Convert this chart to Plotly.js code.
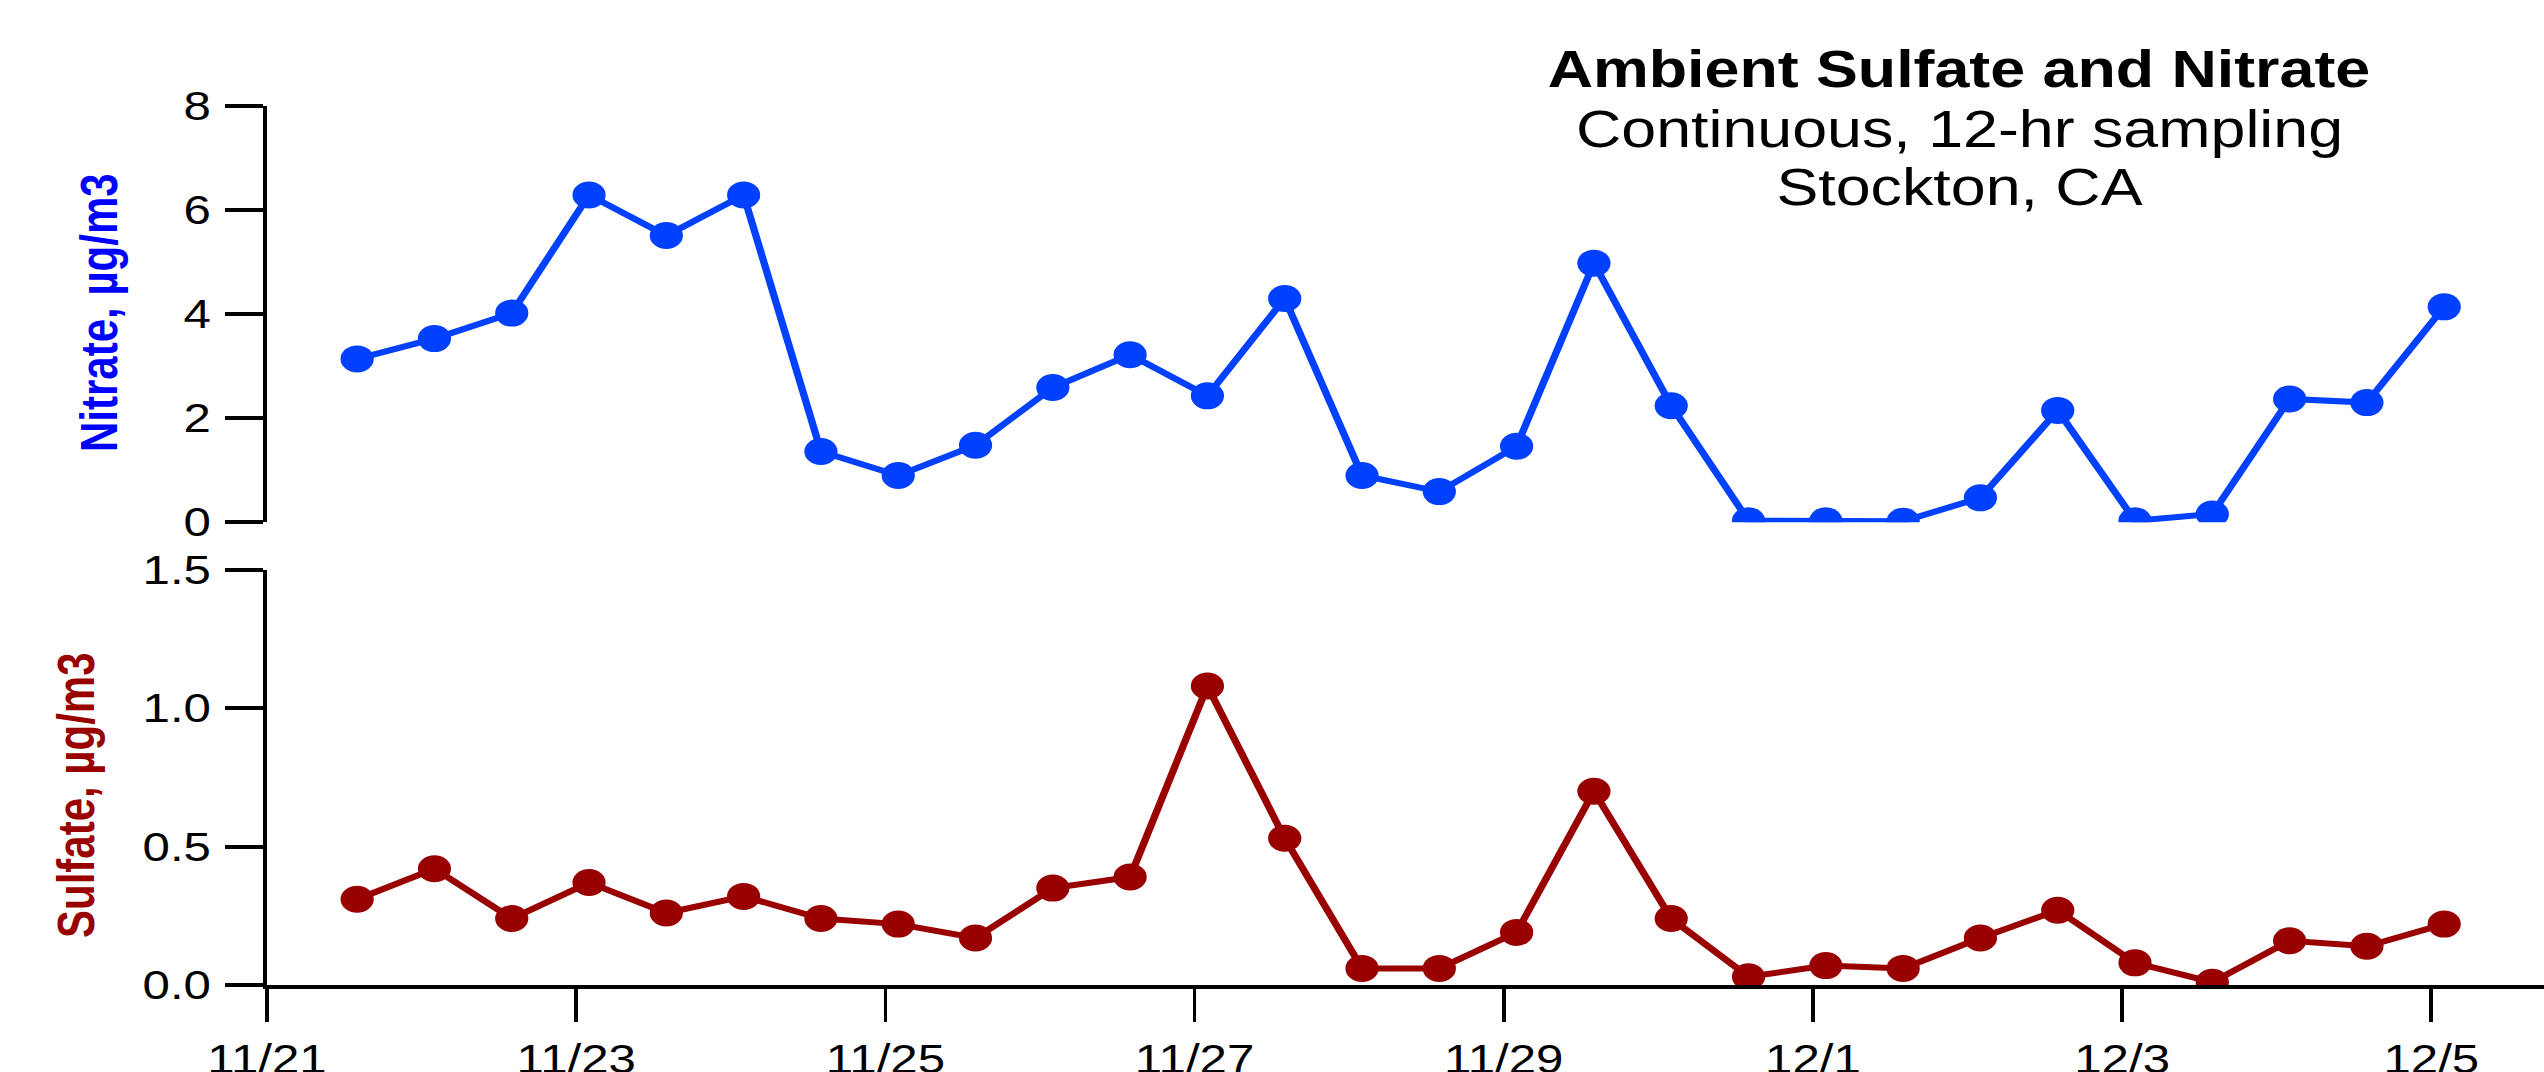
<!DOCTYPE html>
<html>
<head>
<meta charset="utf-8">
<script src="https://cdn.plot.ly/plotly-3.0.1.min.js"></script>
<style>
  html, body { margin: 0; padding: 0; background: #ffffff; overflow: hidden; }
  #chart { width: 2068px; height: 1072px; transform: scaleX(1.2302); transform-origin: 0 0; }
</style>
</head>
<body>
<div id="chart"></div>
<script>
// Sample mid-times (12-hr sampling)
const times = [
  '2003-11-21 14:00','2003-11-22 02:00','2003-11-22 14:00','2003-11-23 02:00',
  '2003-11-23 14:00','2003-11-24 02:00','2003-11-24 14:00','2003-11-25 02:00',
  '2003-11-25 14:00','2003-11-26 02:00','2003-11-26 14:00','2003-11-27 02:00',
  '2003-11-27 14:00','2003-11-28 02:00','2003-11-28 14:00','2003-11-29 02:00',
  '2003-11-29 14:00','2003-11-30 02:00','2003-11-30 14:00','2003-12-01 02:00',
  '2003-12-01 14:00','2003-12-02 02:00','2003-12-02 14:00','2003-12-03 02:00',
  '2003-12-03 14:00','2003-12-04 02:00','2003-12-04 14:00','2003-12-05 02:00'
];
// Nitrate, ug/m3
const nitrate = [
  3.14, 3.53, 4.02, 6.29, 5.51, 6.29, 1.36, 0.90, 1.48, 2.59, 3.22, 2.43, 4.30, 0.90,
  0.59, 1.46, 4.98, 2.24, 0.03, 0.03, 0.02, 0.47, 2.15, 0.03, 0.16, 2.37, 2.30, 4.14
];
// Sulfate, ug/m3
const sulfate = [
  0.31, 0.42, 0.24, 0.37, 0.26, 0.32, 0.24, 0.22, 0.17, 0.35, 0.39, 1.08, 0.53, 0.06,
  0.06, 0.19, 0.70, 0.24, 0.03, 0.07, 0.06, 0.17, 0.27, 0.08, 0.01, 0.16, 0.14, 0.22
];
const xRange = ['2003-11-21 00:00', '2003-12-05 17:30'];
const titleLines = ['Ambient Sulfate and Nitrate', 'Continuous, 12-hr sampling', 'Stockton, CA'];
const nitrateLabel = 'Nitrate, µg/m3';
const sulfateLabel = 'Sulfate, µg/m3';

const FONT = 'Liberation Sans, Arial, Helvetica, sans-serif';
const blue = '#0040FF';
const red = '#990000';

const traces = [
  {
    x: times, y: nitrate, xaxis: 'x', yaxis: 'y2', type: 'scatter', mode: 'lines+markers',
    line: { color: blue, width: 6 }, marker: { color: blue, size: 27 }, name: 'Nitrate'
  },
  {
    x: times, y: sulfate, xaxis: 'x', yaxis: 'y', type: 'scatter', mode: 'lines+markers',
    line: { color: red, width: 6 }, marker: { color: red, size: 27 }, name: 'Sulfate'
  }
];

const axisCommon = {
  showline: true, linecolor: '#000', linewidth: 3.5,
  ticks: 'outside', tickcolor: '#000',
  showgrid: false, zeroline: false,
  tickfont: { family: FONT, size: 40, color: '#000' }
};

const layout = {
  width: 2068, height: 1072,
  paper_bgcolor: '#fff', plot_bgcolor: '#fff',
  showlegend: false,
  margin: { l: 217, r: 0, t: 105.5, b: 87, pad: 0 },
  xaxis: Object.assign({}, axisCommon, {
    type: 'date', range: xRange, tick0: '2003-11-21', dtick: 172800000,
    tickformat: '%-m/%-d', ticklen: 33, tickwidth: 3, anchor: 'y',
    ticklabelstandoff: 4
  }),
  yaxis: Object.assign({}, axisCommon, {
    domain: [0, 0.4724], range: [0, 1.5], dtick: 0.5, tick0: 0, tickformat: '.1f',
    ticklen: 31, tickwidth: 4, anchor: 'x', ticklabelstandoff: 3
  }),
  yaxis2: Object.assign({}, axisCommon, {
    domain: [0.5264, 1], range: [0, 8], dtick: 2, tick0: 0,
    ticklen: 31, tickwidth: 4, anchor: 'x', ticklabelstandoff: 3
  }),
  annotations: [
    { text: '<b>' + titleLines[0] + '</b>', xref: 'paper', yref: 'paper', x: 0.7433, y: 1.0415,
      xanchor: 'center', yanchor: 'middle', showarrow: false, font: { family: FONT, size: 51, color: '#000' } },
    { text: titleLines[1], xref: 'paper', yref: 'paper', x: 0.7433, y: 0.9738,
      xanchor: 'center', yanchor: 'middle', showarrow: false, font: { family: FONT, size: 51, color: '#000' } },
    { text: titleLines[2], xref: 'paper', yref: 'paper', x: 0.7433, y: 0.9068,
      xanchor: 'center', yanchor: 'middle', showarrow: false, font: { family: FONT, size: 51, color: '#000' } },
    { text: '<b>' + nitrateLabel + '</b>', xref: 'paper', yref: 'paper', x: -0.0737, y: 0.7652,
      xanchor: 'center', yanchor: 'middle', textangle: -90, showarrow: false,
      font: { family: FONT, size: 42, color: '#0000FF' } },
    { text: '<b>' + sulfateLabel + '</b>', xref: 'paper', yref: 'paper', x: -0.0838, y: 0.216,
      xanchor: 'center', yanchor: 'middle', textangle: -90, showarrow: false,
      font: { family: FONT, size: 42, color: red } }
  ]
};

Plotly.newPlot('chart', traces, layout, { staticPlot: true, displayModeBar: false });
</script>
</body>
</html>
